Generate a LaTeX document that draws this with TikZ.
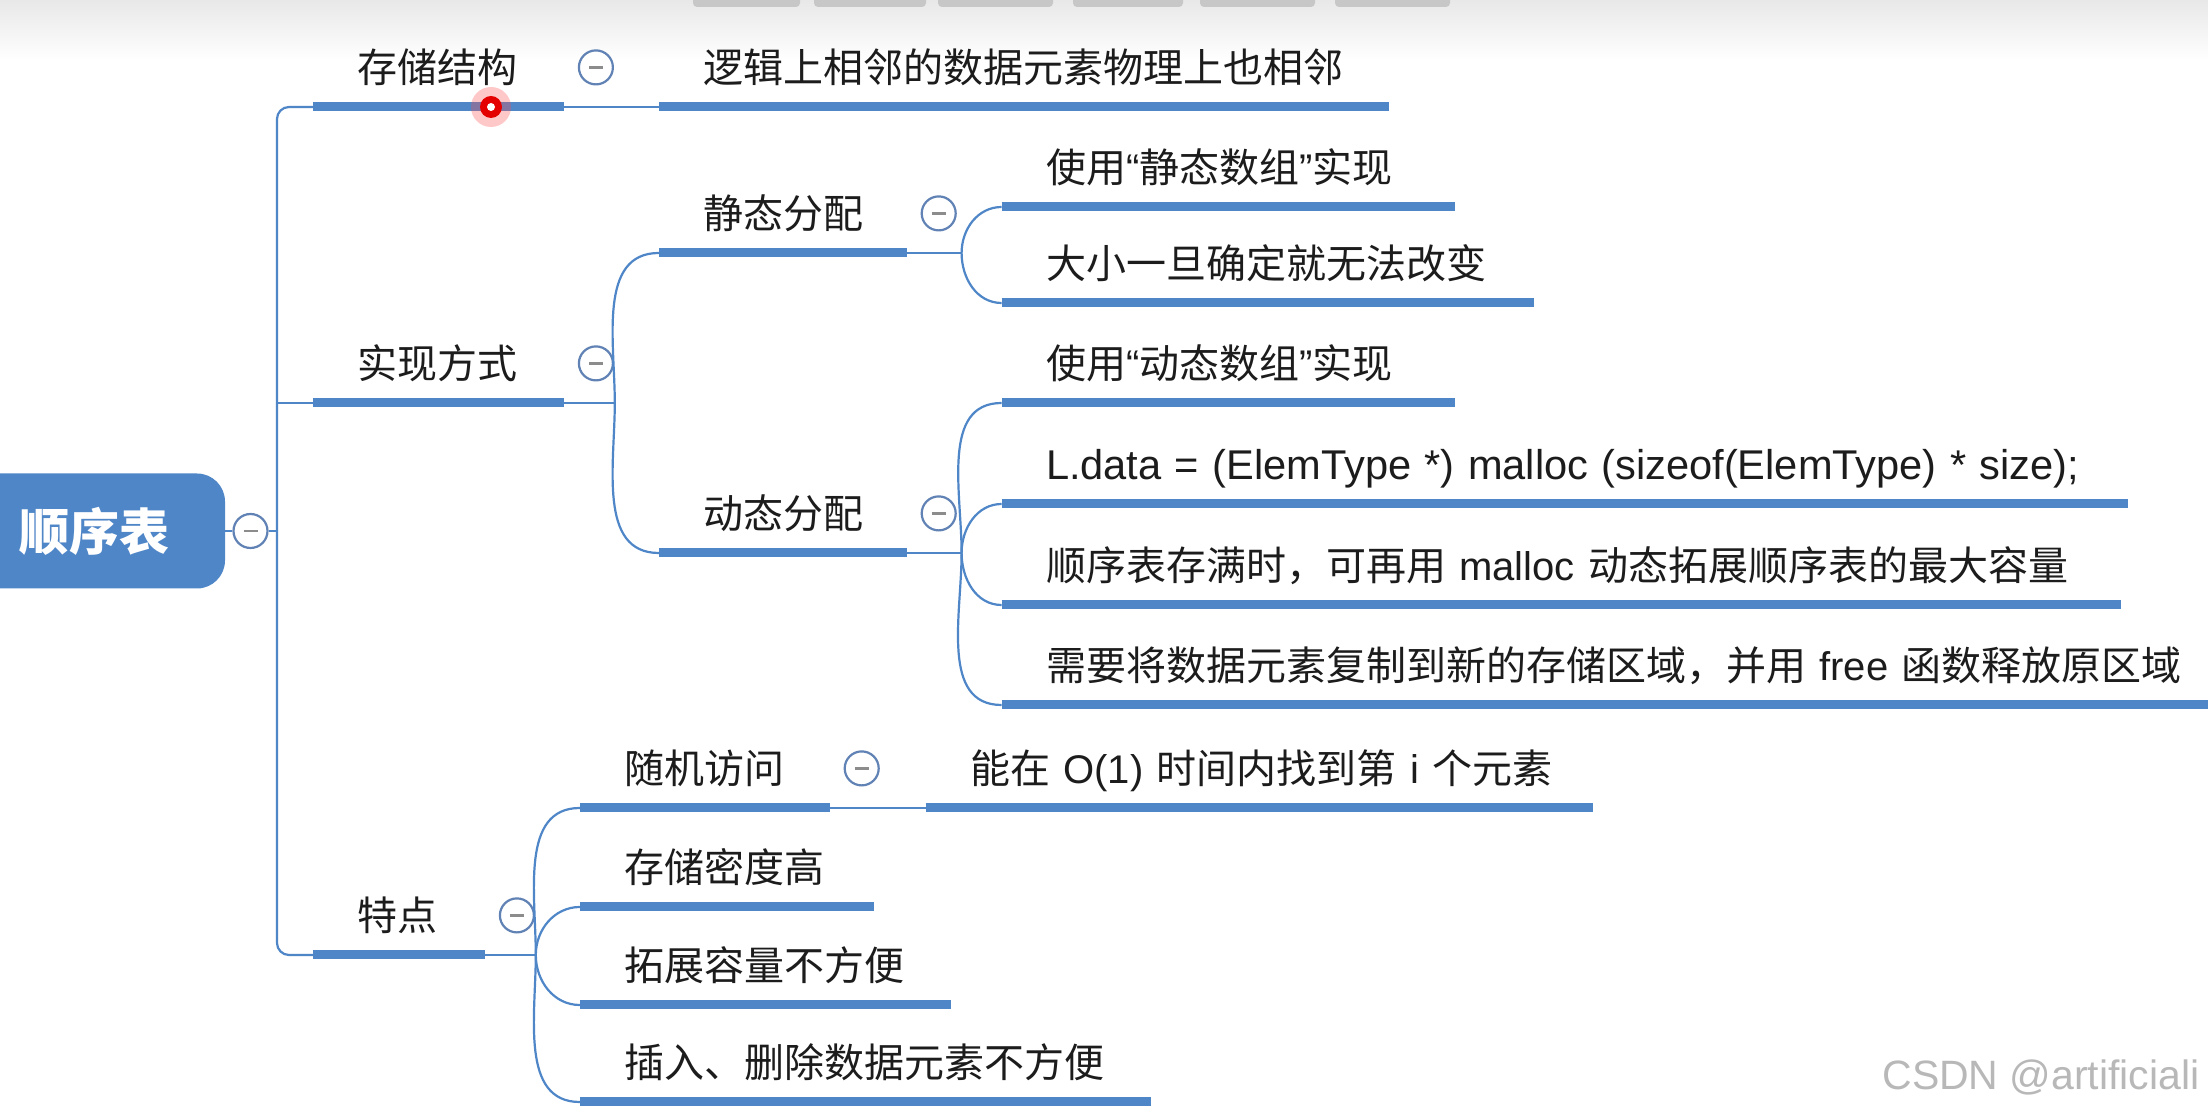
\documentclass[tikz,border=0pt]{standalone}
\usepackage{fontspec}
\setmainfont{Noto Sans CJK SC}
\newfontfamily\codefont{Liberation Sans}
\usetikzlibrary{positioning}
\definecolor{mapblue}{RGB}{79,134,199}
\definecolor{foldring}{RGB}{96,130,180}
\definecolor{inkgray}{RGB}{28,28,28}

\begin{document}
\begin{tikzpicture}[x=0.5pt, y=-0.5pt,
  topic/.style={anchor=south west, text width=#1, align=left,
    inner xsep=22pt, inner ysep=8pt, text height=19.2pt, text depth=4pt,
    font=\fontsize{20pt}{24pt}\selectfont, text=inkgray},
  rootbox/.style={fill=mapblue, rounded corners=14pt, minimum width=131pt,
    minimum height=57.5pt, text=white,
    font=\fontsize{25pt}{30pt}\selectfont\bfseries},
  foldmark/.style={circle, draw=foldring, line width=1.1pt, fill=white,
    minimum size=17pt, inner sep=0pt,
    path picture={\draw[black!45, line width=1.3pt]
      ([xshift=-3.5pt]path picture bounding box.center) --
      ([xshift=3.5pt]path picture bounding box.center);}},
  link/.style={draw=mapblue, line width=1.1pt},
  uline/.style={draw=mapblue, line width=4.5pt}
]
\useasboundingbox (0,0) rectangle (2208,1111);
\clip (0,0) rectangle (2208,1111);
\fill[white] (0,0) rectangle (2208,1111);
\shade[top color=black!9, bottom color=white] (0,0) rectangle (2208,60);
\foreach \a/\b in {693/800, 814/926, 938/1053, 1073/1183, 1200/1315, 1335/1450}
  \fill[black!22, rounded corners=2pt] (\a,-6) rectangle (\b,7);

\node[rootbox] (root) at (94,531) {顺序表};
\node[foldmark, right=3.5pt of root] (rootfold) {};
\coordinate (trunk) at (277,531);

\node[topic=81pt] (store) at (313,107) {存储结构};
\node[topic=81pt] (impl) at (313,403) {实现方式};
\node[topic=41.5pt] (trait) at (313,955) {特点};
\node[foldmark, right=7pt of store] (storefold) {};
\node[foldmark, right=7pt of impl] (implfold) {};
\node[foldmark, right=7pt of trait] (traitfold) {};

\node[topic=320.5pt, right=47.5pt of store.south east, anchor=south west] (adj)
  {逻辑上相邻的数据元素物理上也相邻};

\coordinate[right=25.5pt of impl.south east] (implfork);
\node[topic=79.5pt, above right=75pt and 47.5pt of impl.south east, anchor=south west] (stat) {静态分配};
\node[topic=79.5pt, below right=75pt and 47.5pt of impl.south east, anchor=south west] (dyn) {动态分配};
\node[foldmark, right=7pt of stat] (statfold) {};
\node[foldmark, right=7pt of dyn] (dynfold) {};
\coordinate[right=27.5pt of stat.south east] (statfork);
\coordinate[right=27.5pt of dyn.south east] (dynfork);

\node[topic=182.5pt, above right=23pt and 47.5pt of stat.south east, anchor=south west] (sarr)
  {使用{\codefont “}静态数组{\codefont ”}实现};
\node[topic=222pt, below right=25pt and 47.5pt of stat.south east, anchor=south west] (sfix)
  {大小一旦确定就无法改变};

\node[topic=182.5pt, above right=75pt and 47.5pt of dyn.south east, anchor=south west] (darr)
  {使用{\codefont “}动态数组{\codefont ”}实现};
\node[topic=519pt, above right=24.5pt and 47.5pt of dyn.south east, anchor=south west] (dcode)
  {{\codefont\fontsize{20.8pt}{24pt}\selectfont L.data~=~(ElemType~*)~malloc~(sizeof(ElemType)~*~size);}};
\node[topic=515.5pt, below right=26pt and 47.5pt of dyn.south east, anchor=south west] (dgrow)
  {顺序表存满时，可再用~{\codefont malloc}~动态拓展顺序表的最大容量};
\node[topic=563.5pt, below right=76pt and 47.5pt of dyn.south east, anchor=south west] (dcopy)
  {需要将数据元素复制到新的存储区域，并用~{\codefont free}~函数释放原区域};

\coordinate[right=25.5pt of trait.south east] (traitfork);
\node[topic=80.5pt, above right=73.5pt and 47.5pt of trait.south east, anchor=south west] (rand) {随机访问};
\node[topic=102.5pt, above right=24pt and 47.5pt of trait.south east, anchor=south west] (dense) {存储密度高};
\node[topic=141pt, below right=25pt and 47.5pt of trait.south east, anchor=south west] (grow) {拓展容量不方便};
\node[topic=241pt, below right=73.5pt and 47.5pt of trait.south east, anchor=south west] (ins) {插入、删除数据元素不方便};
\node[foldmark, right=7pt of rand] (randfold) {};
\node[topic=289.5pt, right=48pt of rand.south east, anchor=south west] (rconst)
  {能在~{\codefont O(1)}~时间内找到第~{\codefont i}~个元素};

\draw[link, rounded corners=6pt] (store.south west) -| (trunk) |- (trait.south west);
\draw[link] (root) -- (rootfold) -- (trunk);
\draw[link] (trunk |- impl.south west) -- (impl.south west);
\draw[link] (store.south east) -- (adj.south west);

\draw[link] (impl.south east) -- (implfork);
\draw[link] (implfork) to[out=90,in=180] (stat.south west);
\draw[link] (implfork) to[out=-90,in=180] (dyn.south west);

\draw[link] (stat.south east) -- (statfork);
\draw[link] (statfork) to[out=90,in=180] (sarr.south west);
\draw[link] (statfork) to[out=-90,in=180] (sfix.south west);

\draw[link] (dyn.south east) -- (dynfork);
\draw[link] (dynfork) to[out=90,in=180] (darr.south west);
\draw[link] (dynfork) to[out=90,in=180] (dcode.south west);
\draw[link] (dynfork) to[out=-90,in=180] (dgrow.south west);
\draw[link] (dynfork) to[out=-90,in=180] (dcopy.south west);

\draw[link] (trait.south east) -- (traitfork);
\draw[link] (traitfork) to[out=90,in=180] (rand.south west);
\draw[link] (traitfork) to[out=90,in=180] (dense.south west);
\draw[link] (traitfork) to[out=-90,in=180] (grow.south west);
\draw[link] (traitfork) to[out=-90,in=180] (ins.south west);
\draw[link] (rand.south east) -- (rconst.south west);

\foreach \n in {store,impl,trait,adj,stat,dyn,sarr,sfix,darr,dcode,dgrow,dcopy,
  rand,dense,grow,ins,rconst}
  \draw[uline] (\n.south west) -- (\n.south east);

\fill[red!70, opacity=.3] (store.south west) ++(178,0) circle (10pt);
\fill[red!90!black] (store.south west) ++(178,0) circle (5.5pt);
\fill[white] (store.south west) ++(178,0) circle (2pt);

\node[anchor=west, inner sep=0pt, text=black!28,
  font=\codefont\fontsize{20.5pt}{24pt}\selectfont] (mark) at (1882,1077) {CSDN @artificiali};
\end{tikzpicture}
\end{document}
